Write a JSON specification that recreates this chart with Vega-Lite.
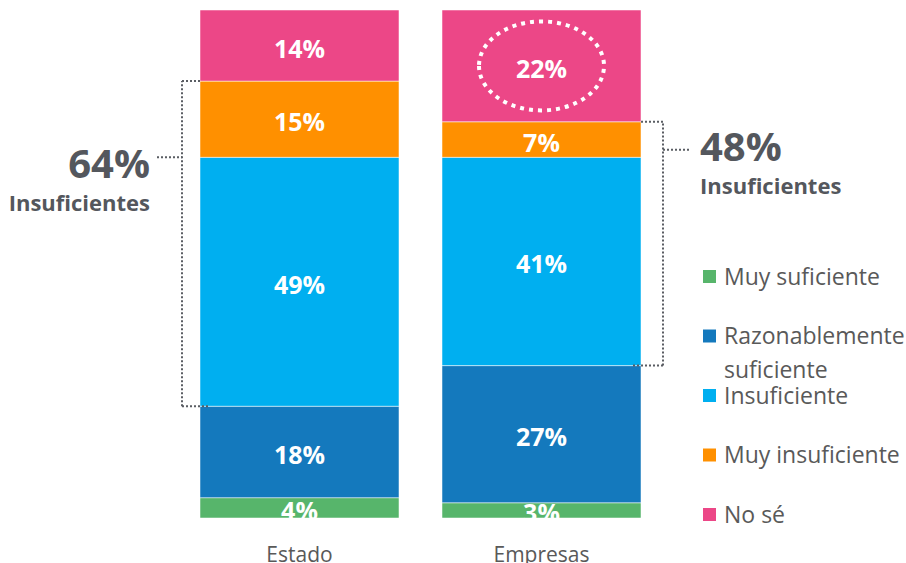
{
  "$schema": "https://vega.github.io/schema/vega-lite/v6.json",
  "width": 441,
  "height": 508,
  "autosize": {"type": "none"},
  "padding": {"left": 200, "top": 10, "right": 265, "bottom": 45},
  "background": "white",
  "config": {"view": {"stroke": null}, "font": "Open Sans", "style": {"guide-label": {"lineHeight": 34, "dy": 8}}},
  "datasets": {
    "respuestas": [
      {"grupo": "Estado", "categoria": "Muy suficiente", "orden": 1, "valor": 0.04},
      {"grupo": "Estado", "categoria": "Razonablemente suficiente", "orden": 2, "valor": 0.18},
      {"grupo": "Estado", "categoria": "Insuficiente", "orden": 3, "valor": 0.49},
      {"grupo": "Estado", "categoria": "Muy insuficiente", "orden": 4, "valor": 0.15},
      {"grupo": "Estado", "categoria": "No sé", "orden": 5, "valor": 0.14},
      {"grupo": "Empresas", "categoria": "Muy suficiente", "orden": 1, "valor": 0.03},
      {"grupo": "Empresas", "categoria": "Razonablemente suficiente", "orden": 2, "valor": 0.27},
      {"grupo": "Empresas", "categoria": "Insuficiente", "orden": 3, "valor": 0.41},
      {"grupo": "Empresas", "categoria": "Muy insuficiente", "orden": 4, "valor": 0.07},
      {"grupo": "Empresas", "categoria": "No sé", "orden": 5, "valor": 0.22}
    ],
    "brackets": [
      {"grupo": "Estado", "desde": 0.22, "hasta": 0.86, "marca": 0.71, "total": "64%", "texto": "Insuficientes"},
      {"grupo": "Empresas", "desde": 0.30, "hasta": 0.78, "marca": 0.725, "total": "48%", "texto": "Insuficientes"}
    ]
  },
  "layer": [
    {
      "data": {"name": "respuestas"},
      "mark": {"type": "bar", "stroke": "white", "strokeWidth": 1, "strokeOpacity": 0.5},
      "encoding": {
        "x": {"field": "grupo", "type": "nominal", "scale": {"domain": ["Estado", "Empresas"], "paddingInner": 0.1777, "paddingOuter": 0},
          "axis": {"title": null, "domain": false, "ticks": false, "tickSize": 0, "labelFont": "Open Sans", "labelFontSize": 21, "labelColor": "#595959", "labelPadding": 35, "labelBaseline": "alphabetic", "labelAngle": 0}},
        "y": {"field": "valor", "type": "quantitative", "stack": "zero", "scale": {"domain": [0, 1], "nice": false}, "axis": null},
        "color": {"field": "categoria", "type": "nominal",
          "scale": {"domain": ["Muy suficiente", "Razonablemente suficiente", "Insuficiente", "Muy insuficiente", "No sé"],
                    "range": ["#57b56b", "#1479bd", "#00aff0", "#ff9000", "#ec4787"]},
          "legend": {"orient": "none", "legendX": 498, "legendY": 255, "title": null, "symbolType": "square", "symbolSize": 169,
            "symbolStrokeWidth": 0, "symbolOpacity": 1, "labelFont": "Open Sans", "labelFontSize": 23, "labelColor": "#595959",
            "labelOffset": 3, "padding": 0, "rowPadding": 0.5, "gridAlign": "all", "labelLimit": 300, "labelBaseline": "alphabetic",
            "labelExpr": "datum.label === 'Razonablemente suficiente' ? ['Razonablemente', 'suficiente'] : datum.label"}},
        "order": {"field": "orden", "type": "quantitative"}
      }
    },
    {
      "data": {"name": "respuestas"},
      "mark": {"type": "text", "color": "white", "fontSize": 25, "fontWeight": "bold", "dy": 4, "clip": true},
      "encoding": {
        "x": {"field": "grupo", "type": "nominal", "scale": {"domain": ["Estado", "Empresas"]}},
        "y": {"field": "valor", "type": "quantitative", "stack": "zero", "bandPosition": 0.5, "axis": null},
        "order": {"field": "orden", "type": "quantitative"},
        "text": {"field": "valor", "type": "quantitative", "format": ".0%"}
      }
    },
    {
      "data": {"name": "respuestas"},
      "mark": {"type": "point", "shape": "M-1,0A1,0.712,0,1,0,1,0A1,0.712,0,1,0,-1,0Z", "size": 15625, "filled": false,
        "stroke": "white", "strokeWidth": 4, "strokeDash": [4, 5]},
      "encoding": {
        "x": {"field": "grupo", "type": "nominal", "scale": {"domain": ["Estado", "Empresas"]}},
        "y": {"field": "valor", "type": "quantitative", "stack": "zero", "bandPosition": 0.5, "axis": null},
        "order": {"field": "orden", "type": "quantitative"},
        "opacity": {"condition": {"test": "datum.grupo === 'Empresas' && datum.categoria === 'No sé'", "value": 1}, "value": 0}
      }
    },
    {
      "data": {"name": "brackets"},
      "transform": [{"filter": "datum.grupo === 'Estado'"}],
      "layer": [
        {
          "mark": {"type": "rule", "xOffset": -18, "strokeDash": [2, 2], "strokeWidth": 2, "color": "#5a5d63"},
          "encoding": {
            "x": {"field": "grupo", "type": "nominal", "bandPosition": 0, "scale": {"domain": ["Estado", "Empresas"]}},
            "y": {"field": "desde", "type": "quantitative", "axis": null},
            "y2": {"field": "hasta"}
          }
        },
        {
          "mark": {"type": "rule", "xOffset": -18, "x2Offset": 0, "strokeDash": [2, 2], "strokeWidth": 2, "color": "#5a5d63"},
          "encoding": {
            "x": {"field": "grupo", "type": "nominal", "bandPosition": 0, "scale": {"domain": ["Estado", "Empresas"]}},
            "x2": {"field": "grupo", "bandPosition": 0},
            "y": {"field": "hasta", "type": "quantitative", "axis": null}
          }
        },
        {
          "mark": {"type": "rule", "xOffset": -18, "x2Offset": 10, "strokeDash": [2, 2], "strokeWidth": 2, "color": "#5a5d63"},
          "encoding": {
            "x": {"field": "grupo", "type": "nominal", "bandPosition": 0, "scale": {"domain": ["Estado", "Empresas"]}},
            "x2": {"field": "grupo", "bandPosition": 0},
            "y": {"field": "desde", "type": "quantitative", "axis": null}
          }
        },
        {
          "mark": {"type": "rule", "xOffset": -43, "x2Offset": -18, "strokeDash": [2, 2], "strokeWidth": 2, "color": "#5a5d63"},
          "encoding": {
            "x": {"field": "grupo", "type": "nominal", "bandPosition": 0, "scale": {"domain": ["Estado", "Empresas"]}},
            "x2": {"field": "grupo", "bandPosition": 0},
            "y": {"field": "marca", "type": "quantitative", "axis": null}
          }
        },
        {
          "mark": {"type": "text", "align": "right", "dx": -50, "dy": 9, "fontSize": 40, "fontWeight": "bold", "color": "#54575d"},
          "encoding": {
            "x": {"field": "grupo", "type": "nominal", "bandPosition": 0, "scale": {"domain": ["Estado", "Empresas"]}},
            "y": {"field": "marca", "type": "quantitative", "axis": null},
            "text": {"field": "total"}
          }
        },
        {
          "mark": {"type": "text", "align": "right", "dx": -50, "dy": 47, "fontSize": 22, "fontWeight": "bold", "color": "#54575d"},
          "encoding": {
            "x": {"field": "grupo", "type": "nominal", "bandPosition": 0, "scale": {"domain": ["Estado", "Empresas"]}},
            "y": {"field": "marca", "type": "quantitative", "axis": null},
            "text": {"field": "texto"}
          }
        }
      ]
    },
    {
      "data": {"name": "brackets"},
      "transform": [{"filter": "datum.grupo === 'Empresas'"}],
      "layer": [
        {
          "mark": {"type": "rule", "xOffset": 22, "strokeDash": [2, 2], "strokeWidth": 2, "color": "#5a5d63"},
          "encoding": {
            "x": {"field": "grupo", "type": "nominal", "bandPosition": 1, "scale": {"domain": ["Estado", "Empresas"]}},
            "y": {"field": "desde", "type": "quantitative", "axis": null},
            "y2": {"field": "hasta"}
          }
        },
        {
          "mark": {"type": "rule", "xOffset": 0, "x2Offset": 22, "strokeDash": [2, 2], "strokeWidth": 2, "color": "#5a5d63"},
          "encoding": {
            "x": {"field": "grupo", "type": "nominal", "bandPosition": 1, "scale": {"domain": ["Estado", "Empresas"]}},
            "x2": {"field": "grupo", "bandPosition": 1},
            "y": {"field": "hasta", "type": "quantitative", "axis": null}
          }
        },
        {
          "mark": {"type": "rule", "xOffset": -8, "x2Offset": 22, "strokeDash": [2, 2], "strokeWidth": 2, "color": "#5a5d63"},
          "encoding": {
            "x": {"field": "grupo", "type": "nominal", "bandPosition": 1, "scale": {"domain": ["Estado", "Empresas"]}},
            "x2": {"field": "grupo", "bandPosition": 1},
            "y": {"field": "desde", "type": "quantitative", "axis": null}
          }
        },
        {
          "mark": {"type": "rule", "xOffset": 22, "x2Offset": 48, "strokeDash": [2, 2], "strokeWidth": 2, "color": "#5a5d63"},
          "encoding": {
            "x": {"field": "grupo", "type": "nominal", "bandPosition": 1, "scale": {"domain": ["Estado", "Empresas"]}},
            "x2": {"field": "grupo", "bandPosition": 1},
            "y": {"field": "marca", "type": "quantitative", "axis": null}
          }
        },
        {
          "mark": {"type": "text", "align": "left", "dx": 59, "dy": -1, "fontSize": 40, "fontWeight": "bold", "color": "#54575d"},
          "encoding": {
            "x": {"field": "grupo", "type": "nominal", "bandPosition": 1, "scale": {"domain": ["Estado", "Empresas"]}},
            "y": {"field": "marca", "type": "quantitative", "axis": null},
            "text": {"field": "total"}
          }
        },
        {
          "mark": {"type": "text", "align": "left", "dx": 59, "dy": 37, "fontSize": 22, "fontWeight": "bold", "color": "#54575d"},
          "encoding": {
            "x": {"field": "grupo", "type": "nominal", "bandPosition": 1, "scale": {"domain": ["Estado", "Empresas"]}},
            "y": {"field": "marca", "type": "quantitative", "axis": null},
            "text": {"field": "texto"}
          }
        }
      ]
    }
  ]
}
